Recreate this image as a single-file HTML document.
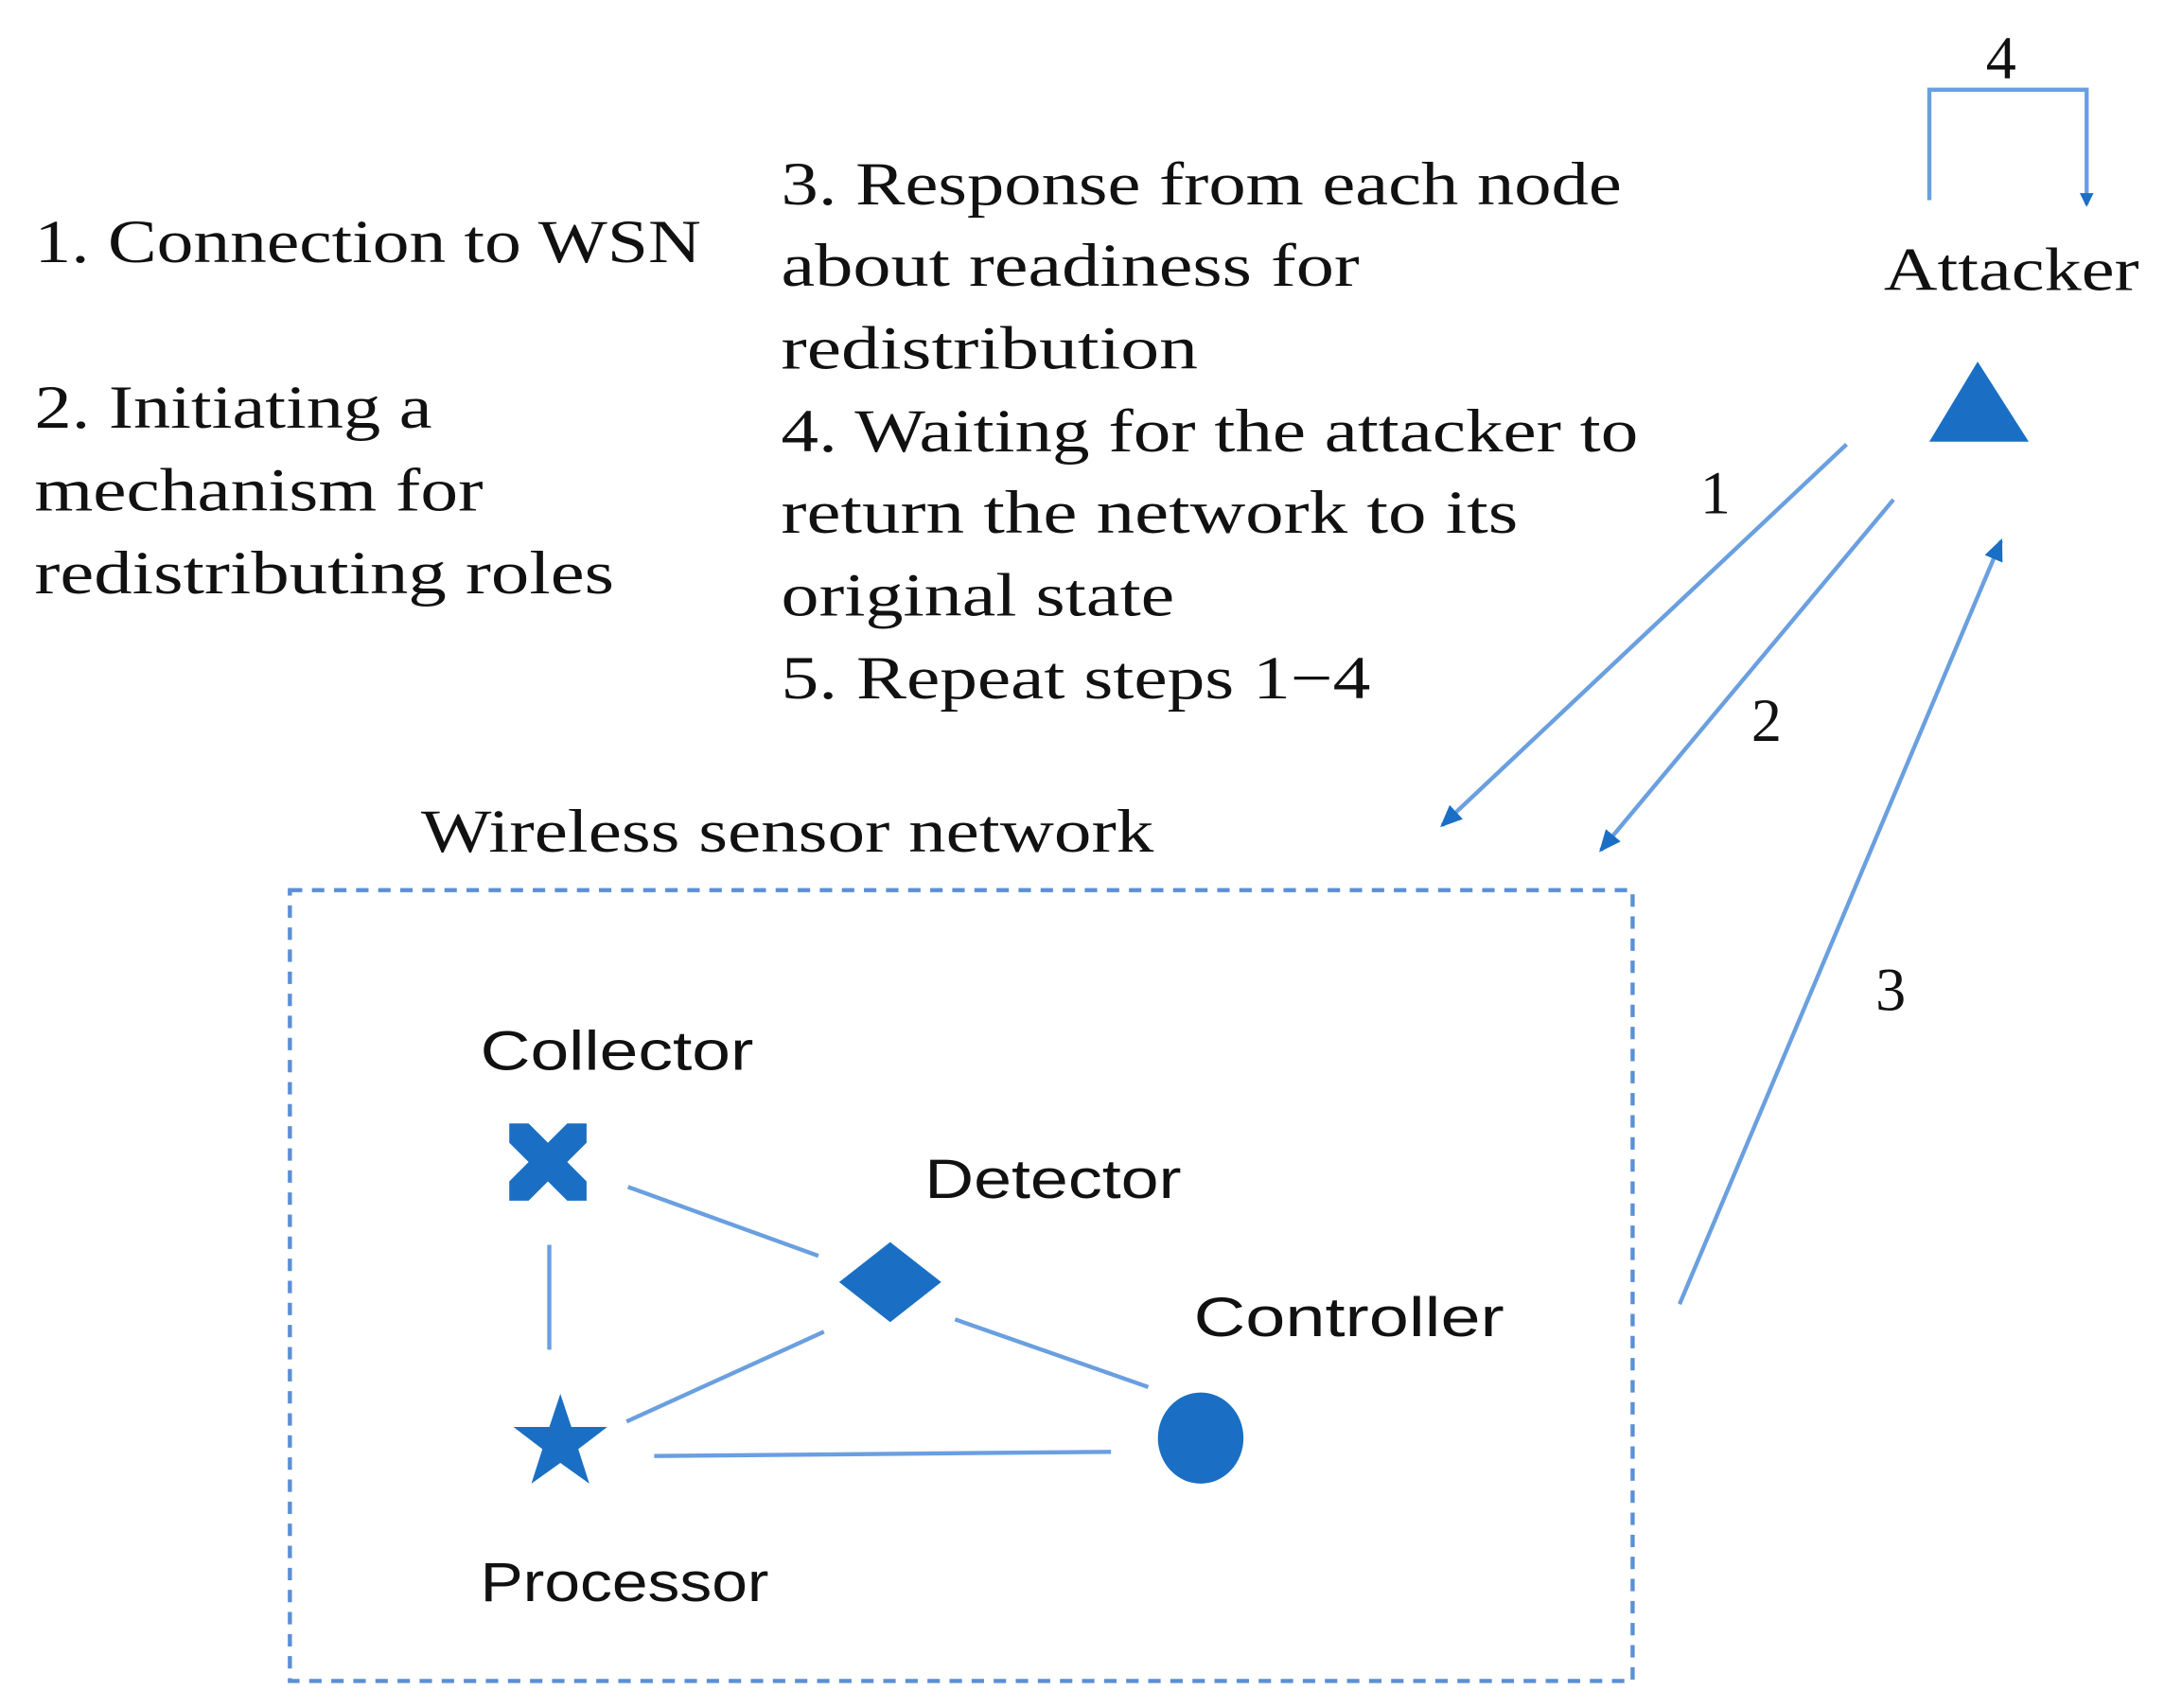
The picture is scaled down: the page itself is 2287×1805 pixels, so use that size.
<!DOCTYPE html>
<html><head><meta charset="utf-8"><style>
html,body{margin:0;padding:0;background:#fff;}
svg{display:block;}
.t{font-family:"Liberation Serif",serif;font-size:44px;fill:#111;}
.s{font-family:"Liberation Sans",sans-serif;font-size:40px;fill:#111;}
.ln{stroke:#6a9fe0;stroke-width:3;fill:none;}
</style></head><body>
<svg width="2287" height="1805" viewBox="0 0 1568 1237.6" xmlns="http://www.w3.org/2000/svg">
<defs>
<marker id="ah" markerWidth="10" markerHeight="10" refX="8" refY="5" orient="auto" markerUnits="userSpaceOnUse">
<path d="M0,0 L10,5 L0,10 z" fill="#1a6fc4"/></marker>
<marker id="ah2" markerWidth="16" markerHeight="14" refX="14" refY="7" orient="auto" markerUnits="userSpaceOnUse">
<path d="M0,0 L16,7 L0,14 z" fill="#1a6fc4"/></marker>
</defs>
<text class="t" x="25" y="190" textLength="483" lengthAdjust="spacingAndGlyphs">1. Connection to WSN</text>
<text class="t" x="25" y="310" textLength="288" lengthAdjust="spacingAndGlyphs">2. Initiating a</text>
<text class="t" x="25" y="370" textLength="325" lengthAdjust="spacingAndGlyphs">mechanism for</text>
<text class="t" x="25" y="430" textLength="420" lengthAdjust="spacingAndGlyphs">redistributing roles</text>

<text class="t" x="566" y="148" textLength="609" lengthAdjust="spacingAndGlyphs">3. Response from each node</text>
<text class="t" x="566" y="207" textLength="419" lengthAdjust="spacingAndGlyphs">about readiness for</text>
<text class="t" x="566" y="267" textLength="302" lengthAdjust="spacingAndGlyphs">redistribution</text>
<text class="t" x="566" y="327" textLength="621" lengthAdjust="spacingAndGlyphs">4. Waiting for the attacker to</text>
<text class="t" x="566" y="386" textLength="534" lengthAdjust="spacingAndGlyphs">return the network to its</text>
<text class="t" x="566" y="446" textLength="285" lengthAdjust="spacingAndGlyphs">original state</text>
<text class="t" x="566" y="506" textLength="427" lengthAdjust="spacingAndGlyphs">5. Repeat steps 1−4</text>

<text class="t" x="1365" y="210" textLength="185" lengthAdjust="spacingAndGlyphs">Attacker</text>
<text class="t" x="1450" y="57" text-anchor="middle">4</text>
<path class="ln" d="M1398,145 L1398,65 L1512,65 L1512,148" marker-end="url(#ah)"/>
<polygon points="1433,262 1398,320 1470,320" fill="#1a6fc4"/>

<line class="ln" x1="1338" y1="322" x2="1045" y2="598" marker-end="url(#ah2)"/>
<line class="ln" x1="1372" y1="362" x2="1160" y2="616" marker-end="url(#ah2)"/>
<line class="ln" x1="1217" y1="945" x2="1450" y2="392" marker-end="url(#ah2)"/>
<text class="t" x="1243" y="372" text-anchor="middle">1</text>
<text class="t" x="1280" y="537" text-anchor="middle">2</text>
<text class="t" x="1370" y="732" text-anchor="middle">3</text>

<text class="t" x="305" y="617" textLength="531" lengthAdjust="spacingAndGlyphs">Wireless sensor network</text>
<rect x="210" y="645" width="973" height="573" fill="none" stroke="#5b8fd6" stroke-width="3" stroke-dasharray="9,7"/>

<text class="s" x="348" y="775" textLength="198" lengthAdjust="spacingAndGlyphs">Collector</text>
<text class="s" x="670" y="868" textLength="186" lengthAdjust="spacingAndGlyphs">Detector</text>
<text class="s" x="865" y="968" textLength="225" lengthAdjust="spacingAndGlyphs">Controller</text>
<text class="s" x="348" y="1160" textLength="209" lengthAdjust="spacingAndGlyphs">Processor</text>

<line class="ln" x1="455" y1="860" x2="593" y2="910"/>
<line class="ln" x1="398" y1="902" x2="398" y2="978"/>
<line class="ln" x1="597" y1="965" x2="454" y2="1030"/>
<line class="ln" x1="692" y1="956" x2="832" y2="1005"/>
<line class="ln" x1="474" y1="1055" x2="805" y2="1052"/>

<g fill="#1a6fc4">
<path d="M397,842 m-28,-28 l14,0 l14,14 l14,-14 l14,0 l0,14 l-14,14 l14,14 l0,14 l-14,0 l-14,-14 l-14,14 l-14,0 l0,-14 l14,-14 l-14,-14 z"/>
<polygon points="645,900 682,929 645,958 608,929"/>
<ellipse cx="870" cy="1042" rx="31" ry="33"/>
<polygon points="406,1010 414,1034 440,1034 419,1050 427,1075 406,1060 385,1075 393,1050 372,1034 398,1034"/>
</g>
</svg>
</body></html>
